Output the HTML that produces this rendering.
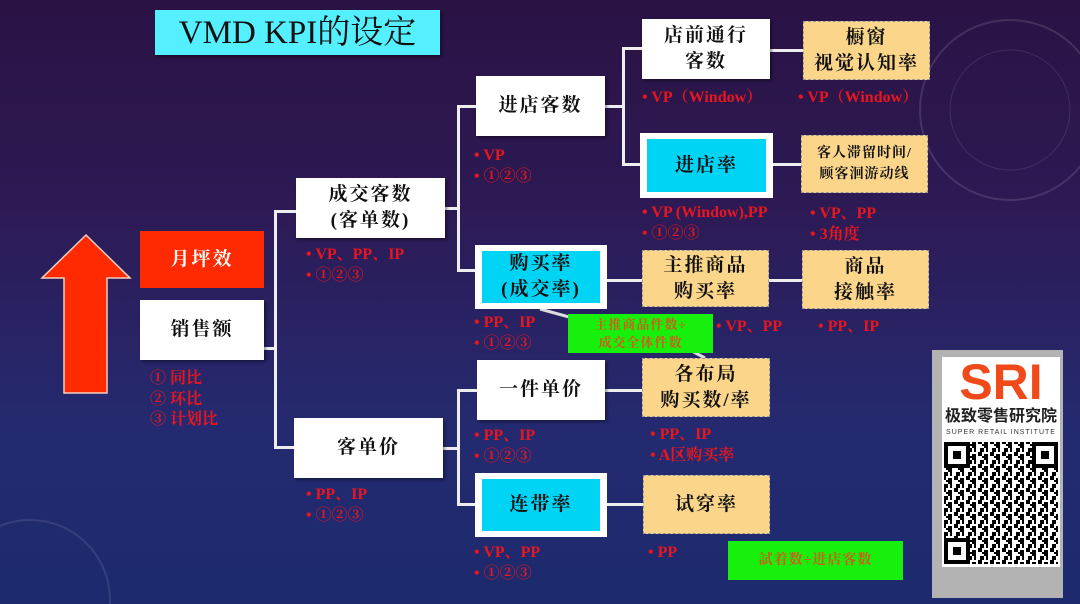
<!DOCTYPE html>
<html style="overflow:hidden;width:1080px;height:604px"><head><meta charset="utf-8"><style>
*{margin:0;padding:0;box-sizing:border-box}
body{width:1080px;height:604px;overflow:hidden;position:relative;
background:linear-gradient(180deg,#2a1244 0%,#2d1a55 35%,#252a70 70%,#1d2a6e 100%);
font-family:"Liberation Serif","Noto Serif CJK SC",serif}
.b{position:absolute;display:flex;align-items:center;justify-content:center;text-align:center;font-size:19px;line-height:26px;color:#111;letter-spacing:2px;font-weight:bold}
.w{background:#fff;box-shadow:2px 2px 3px rgba(0,0,0,.4)}
.c{background:#fff;padding:6px 7px}
.c span{display:flex;width:100%;height:100%;align-items:center;justify-content:center;background:#00d4f5}
.o{background:#fbd68a;border:1.5px dashed #999}
.g{background:#17f00c;color:#d35a1a;font-size:13px;line-height:18px;position:absolute;display:flex;align-items:center;justify-content:center;text-align:center;letter-spacing:1px;font-weight:bold}
.n{position:absolute;color:#e8161e;font-size:16px;line-height:21px;white-space:nowrap;font-weight:bold}
.l{position:absolute;background:#eee}
</style></head><body>
<svg style="position:absolute;left:0;top:0" width="1080" height="604">
<circle cx="1010" cy="110" r="90" fill="none" stroke="rgba(255,255,255,.12)" stroke-width="2"/>
<circle cx="1010" cy="110" r="60" fill="none" stroke="rgba(255,255,255,.1)" stroke-width="1"/>
<circle cx="30" cy="600" r="80" fill="none" stroke="rgba(255,255,255,.1)" stroke-width="2"/>
<polygon points="86,235 130,278 107,278 107,393 64,393 64,278 42,278" fill="#ff2a00" stroke="#f5d0c0" stroke-width="1.5"/>
<line x1="540" y1="309" x2="580" y2="320" stroke="#ddd" stroke-width="3"/>
<line x1="690" y1="350" x2="705" y2="358" stroke="#ddd" stroke-width="3"/>
</svg>
<div class="b" style="left:155px;top:10px;width:285px;height:45px;background:#55f0ff;font-size:33px;font-weight:normal;letter-spacing:0;box-shadow:2px 2px 3px rgba(0,0,0,.4)">VMD KPI的设定</div>

<div class="l" style="left:264px;top:347px;width:11px;height:3px"></div>
<div class="l" style="left:274px;top:210px;width:3px;height:239px"></div>
<div class="l" style="left:274px;top:210px;width:22px;height:3px"></div>
<div class="l" style="left:274px;top:446px;width:22px;height:3px"></div>
<div class="l" style="left:445px;top:207px;width:14px;height:3px"></div>
<div class="l" style="left:457px;top:105px;width:3px;height:167px"></div>
<div class="l" style="left:457px;top:105px;width:20px;height:3px"></div>
<div class="l" style="left:457px;top:269px;width:20px;height:3px"></div>
<div class="l" style="left:443px;top:447px;width:16px;height:3px"></div>
<div class="l" style="left:457px;top:389px;width:3px;height:117px"></div>
<div class="l" style="left:457px;top:389px;width:20px;height:3px"></div>
<div class="l" style="left:457px;top:503px;width:20px;height:3px"></div>
<div class="l" style="left:605px;top:105px;width:19px;height:3px"></div>
<div class="l" style="left:622px;top:47px;width:3px;height:119px"></div>
<div class="l" style="left:622px;top:47px;width:20px;height:3px"></div>
<div class="l" style="left:622px;top:163px;width:20px;height:3px"></div>
<div class="l" style="left:770px;top:49px;width:33px;height:3px"></div>
<div class="l" style="left:773px;top:163px;width:30px;height:3px"></div>
<div class="l" style="left:607px;top:279px;width:35px;height:3px"></div>
<div class="l" style="left:769px;top:279px;width:33px;height:3px"></div>
<div class="l" style="left:605px;top:389px;width:37px;height:3px"></div>
<div class="l" style="left:607px;top:503px;width:36px;height:3px"></div>

<div class="b" style="left:140px;top:231px;width:124px;height:57px;background:#ff2a00;color:#fff">月坪效</div>
<div class="b w" style="left:140px;top:300px;width:124px;height:60px">销售额</div>
<div class="n" style="left:150px;top:369px;line-height:20.5px">① 同比<br>② 环比<br>③ 计划比</div>

<div class="b w" style="left:296px;top:178px;width:149px;height:60px">成交客数<br>(客单数)</div>
<div class="n" style="left:306px;top:244px">• VP、PP、IP<br>• ①②③</div>
<div class="b w" style="left:294px;top:418px;width:149px;height:60px">客单价</div>
<div class="n" style="left:306px;top:484px">• PP、IP<br>• ①②③</div>

<div class="b w" style="left:476px;top:76px;width:129px;height:60px">进店客数</div>
<div class="n" style="left:474px;top:145px">• VP<br>• ①②③</div>
<div class="b c" style="left:475px;top:245px;width:132px;height:64px"><span>购买率<br>(成交率)</span></div>
<div class="n" style="left:474px;top:312px">• PP、IP<br>• ①②③</div>
<div class="b w" style="left:477px;top:360px;width:128px;height:60px">一件单价</div>
<div class="n" style="left:474px;top:425px">• PP、IP<br>• ①②③</div>
<div class="b c" style="left:475px;top:473px;width:132px;height:64px"><span>连带率</span></div>
<div class="n" style="left:474px;top:542px">• VP、PP<br>• ①②③</div>

<div class="b w" style="left:642px;top:19px;width:128px;height:60px">店前通行<br>客数</div>
<div class="n" style="left:642px;top:87px">• VP（Window）</div>
<div class="b c" style="left:640px;top:133px;width:133px;height:65px"><span>进店率</span></div>
<div class="n" style="left:642px;top:202px">• VP (Window),PP<br>• ①②③</div>
<div class="b o" style="left:642px;top:250px;width:127px;height:57px">主推商品<br>购买率</div>
<div class="n" style="left:716px;top:316px">• VP、PP</div>
<div class="b o" style="left:642px;top:358px;width:128px;height:59px">各布局<br>购买数/率</div>
<div class="n" style="left:650px;top:424px">• PP、IP<br>• A区购买率</div>
<div class="b o" style="left:643px;top:475px;width:127px;height:59px">试穿率</div>
<div class="n" style="left:648px;top:542px">• PP</div>

<div class="b o" style="left:803px;top:21px;width:127px;height:59px">橱窗<br>视觉认知率</div>
<div class="n" style="left:798px;top:87px">• VP（Window）</div>
<div class="b o" style="left:801px;top:135px;width:127px;height:58px;font-size:14px;line-height:21px;letter-spacing:1px">客人滞留时间/<br>顾客洄游动线</div>
<div class="n" style="left:810px;top:203px">• VP、PP<br>• 3角度</div>
<div class="b o" style="left:802px;top:250px;width:127px;height:59px">商品<br>接触率</div>
<div class="n" style="left:818px;top:316px">• PP、IP</div>

<div class="g" style="left:568px;top:314px;width:145px;height:39px">主推商品件数÷<br>成交全体件数</div>
<div class="g" style="left:728px;top:541px;width:175px;height:39px;font-size:14px">試着数÷进店客数</div>

<div style="position:absolute;left:932px;top:350px;width:131px;height:248px;background:#b3b3b3"></div>
<div style="position:absolute;left:942px;top:357px;width:118px;height:210px;background:#fff"></div>
<div style="position:absolute;left:944px;top:360px;width:114px;height:44px;color:#f04a1a;font:bold 50px/44px 'Liberation Sans',sans-serif;text-align:center;overflow:hidden">SRI</div>
<div style="position:absolute;left:942px;top:407px;width:118px;height:20px;overflow:hidden;font:bold 16px/20px 'Liberation Sans','Noto Sans CJK SC',sans-serif;color:#222;text-align:center">极致零售研究院</div>
<div style="position:absolute;left:942px;top:428px;width:118px;height:10px;overflow:hidden;font:7px/10px 'Liberation Sans',sans-serif;color:#333;text-align:center;letter-spacing:1px">SUPER RETAIL INSTITUTE</div>
<svg style="position:absolute;left:942px;top:440px" width="118" height="126">
<defs><pattern id="q" width="12" height="12" patternUnits="userSpaceOnUse">
<rect width="12" height="12" fill="#fff"/><rect x="0" y="0" width="4" height="4"/><rect x="6" y="2" width="4" height="6"/><rect x="2" y="8" width="4" height="4"/><rect x="8" y="8" width="2" height="4"/><rect x="4" y="4" width="2" height="2"/></pattern></defs>
<rect x="2" y="2" width="114" height="122" fill="url(#q)"/>
<g fill="none" stroke="#000" stroke-width="4"><rect x="4" y="4" width="22" height="22" fill="#fff"/><rect x="92" y="4" width="22" height="22" fill="#fff"/><rect x="4" y="100" width="22" height="22" fill="#fff"/></g>
<rect x="11" y="11" width="8" height="8"/><rect x="99" y="11" width="8" height="8"/><rect x="11" y="107" width="8" height="8"/>
</svg>
</body></html>
